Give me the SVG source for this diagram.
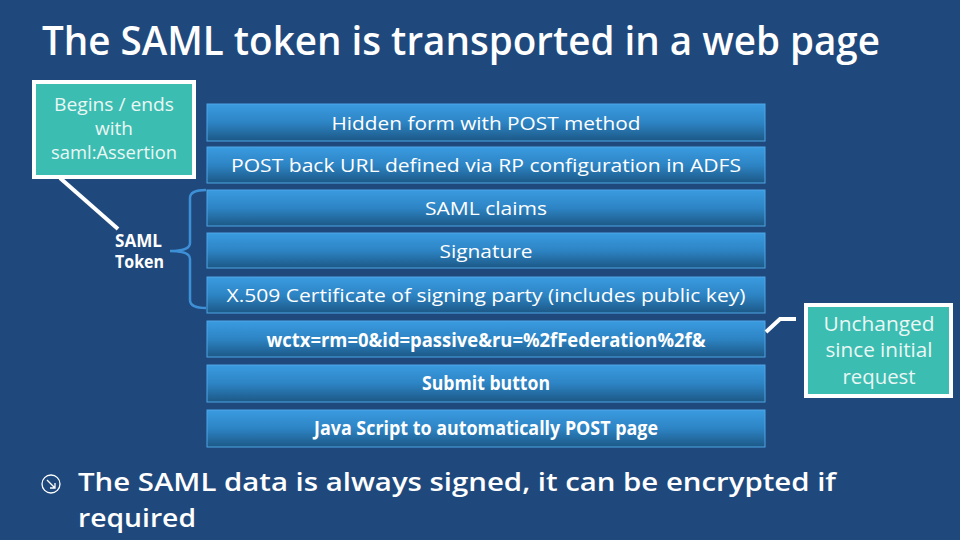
<svg xmlns="http://www.w3.org/2000/svg" width="960" height="540" viewBox="0 0 960 540">
<defs>
<linearGradient id="barG" x1="0" y1="0" x2="0" y2="1">
<stop offset="0" stop-color="#3a9be0"/>
<stop offset="0.5" stop-color="#2d84c4"/>
<stop offset="1" stop-color="#1c5886"/>
</linearGradient>
<style>
.bar{fill:url(#barG);stroke:#4ea6e6;stroke-width:1}
.bt{font-family:"Open Sans","Noto Sans",sans-serif;font-size:19px;fill:#ffffff;text-anchor:middle}
.bb{font-family:"Open Sans","Noto Sans",sans-serif;font-size:19px;font-weight:700;fill:#ffffff;text-anchor:middle}
.call{fill:#3cbdb1;stroke:#ffffff;stroke-width:4}
.ct{font-family:"Open Sans","Noto Sans",sans-serif;font-size:18px;fill:#eaf7f5;text-anchor:middle}
.ct2{font-family:"Open Sans","Noto Sans",sans-serif;font-size:20px;fill:#eaf7f5;text-anchor:middle}
.wl{fill:none;stroke:#ffffff;stroke-width:4}
.big{font-family:"Open Sans","Noto Sans",sans-serif;font-size:26px;font-weight:600;fill:#ffffff}
</style>
</defs>
<rect x="0" y="0" width="960" height="540" fill="#1f497d"/>
<text x="42" y="55" font-family="Open Sans, Noto Sans, sans-serif" font-size="39" font-weight="600" fill="#ffffff" textLength="838" lengthAdjust="spacingAndGlyphs">The SAML token is transported in a web page</text>

<g id="bar1"><rect class="bar" x="207" y="104" width="558" height="37"/><text class="bt" x="486" y="130" textLength="309" lengthAdjust="spacingAndGlyphs">Hidden form with POST method</text></g>
<g id="bar2"><rect class="bar" x="207" y="147" width="558" height="36"/><text class="bt" x="486" y="172" textLength="510" lengthAdjust="spacingAndGlyphs">POST back URL defined via RP configuration in ADFS</text></g>
<g id="bar3"><rect class="bar" x="207" y="190" width="558" height="36"/><text class="bt" x="486" y="215" textLength="122" lengthAdjust="spacingAndGlyphs">SAML claims</text></g>
<g id="bar4"><rect class="bar" x="207" y="233" width="558" height="35"/><text class="bt" x="486" y="258" textLength="93" lengthAdjust="spacingAndGlyphs">Signature</text></g>
<g id="bar5"><rect class="bar" x="207" y="277" width="558" height="36"/><text class="bt" x="486" y="302" textLength="519" lengthAdjust="spacingAndGlyphs">X.509 Certificate of signing party (includes public key)</text></g>
<g id="bar6"><rect class="bar" x="207" y="321" width="558" height="36"/><text class="bb" x="486" y="347" textLength="439" lengthAdjust="spacingAndGlyphs">wctx=rm=0&amp;id=passive&amp;ru=%2fFederation%2f&amp;</text></g>
<g id="bar7"><rect class="bar" x="207" y="365" width="558" height="37"/><text class="bb" x="486" y="390" textLength="128" lengthAdjust="spacingAndGlyphs">Submit button</text></g>
<g id="bar8"><rect class="bar" x="207" y="410" width="558" height="37"/><text class="bb" x="486" y="435" textLength="344" lengthAdjust="spacingAndGlyphs">Java Script to automatically POST page</text></g>

<g id="callout-assertion">
<rect class="call" x="34" y="82" width="160" height="95"/>
<text class="ct" x="114" y="111" textLength="120" lengthAdjust="spacingAndGlyphs">Begins / ends</text>
<text class="ct" x="114" y="135" textLength="38" lengthAdjust="spacingAndGlyphs">with</text>
<text class="ct" x="114" y="159" textLength="126" lengthAdjust="spacingAndGlyphs">saml:Assertion</text>
</g>

<g id="saml-token">
<text x="115" y="247" font-family="Open Sans, Noto Sans, sans-serif" font-size="17" font-weight="700" fill="#ffffff" textLength="47" lengthAdjust="spacingAndGlyphs">SAML</text>
<text x="115" y="268" font-family="Open Sans, Noto Sans, sans-serif" font-size="17" font-weight="700" fill="#ffffff" textLength="49" lengthAdjust="spacingAndGlyphs">Token</text>
</g>

<g id="callout-unchanged">
<rect class="call" x="806" y="305" width="145" height="91"/>
<text class="ct2" x="879" y="331" textLength="111" lengthAdjust="spacingAndGlyphs">Unchanged</text>
<text class="ct2" x="879" y="357" textLength="107" lengthAdjust="spacingAndGlyphs">since initial</text>
<text class="ct2" x="879" y="384" textLength="73" lengthAdjust="spacingAndGlyphs">request</text>
</g>

<g id="connectors">
<path class="wl" d="M60 178 L118 229"/>
<path class="wl" d="M766 332 L780 319 L796 319"/>
<path d="M206 190 Q190 190 190 198 L190 243 Q190 251 170 251 Q190 251 190 259 L190 300 Q190 308 206 308" fill="none" stroke="#3d8fd6" stroke-width="2.5"/>
</g>

<g id="bullet">
<circle cx="51" cy="484" r="9" fill="none" stroke="#ffffff" stroke-width="1.3"/>
<path d="M47 480 L55 488 M55 483 L55 488 L50 488" fill="none" stroke="#ffffff" stroke-width="1.3"/>
<text class="big" x="78" y="491" textLength="758" lengthAdjust="spacingAndGlyphs">The SAML data is always signed, it can be encrypted if</text>
<text class="big" x="78" y="527" textLength="118" lengthAdjust="spacingAndGlyphs">required</text>
</g>
</svg>
